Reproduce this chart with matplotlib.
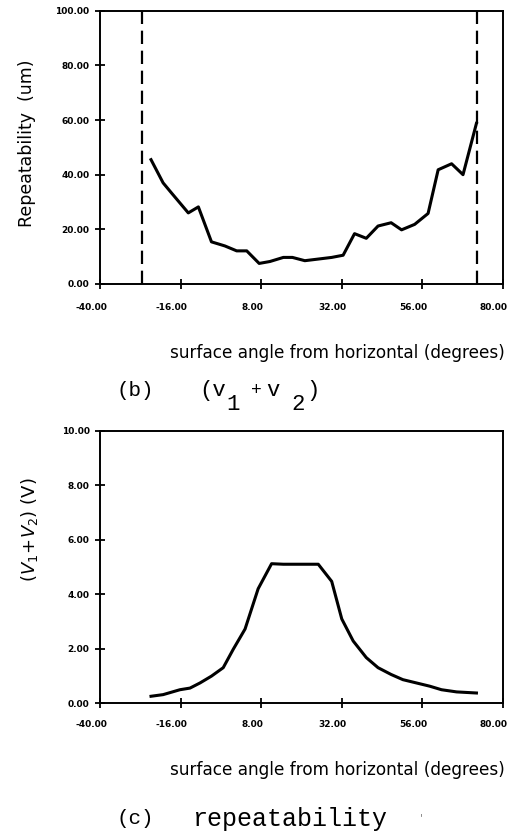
import numpy as np
import matplotlib
matplotlib.use("Agg")
import matplotlib.pyplot as plt
from matplotlib.transforms import ScaledTranslation

# repeatability (um) vs surface angle
ang_r = [-24.8, -21.2, -18.7, -13.7, -10.7, -6.8, -2.8, 0.7, 3.7, 7.4, 10.6, 14.6,
         17.3, 21.0, 25.0, 29.0, 32.4, 35.8, 39.3, 42.8, 46.7, 49.8, 53.7, 57.7,
         60.7, 64.7, 68.1, 72.1]
rep = [45.5, 37.0, 33.3, 26.0, 28.2, 15.4, 13.9, 12.1, 12.1, 7.5, 8.2, 9.7,
       9.7, 8.5, 9.1, 9.7, 10.5, 18.4, 16.7, 21.2, 22.4, 19.8, 21.8, 25.8,
       41.8, 44.0, 40.0, 58.8]
limits = [-27.6, 72.3]

# (V1+V2) in volts vs surface angle
ang_v = [-24.8, -21.2, -16.2, -13.2, -10.2, -6.8, -3.3, -0.3, 3.2, 7.1, 11.1, 14.6,
         21.0, 25.0, 29.0, 32.0, 35.4, 39.3, 42.8, 46.7, 50.2, 54.2, 58.2, 61.7,
         66.2, 72.1]
volt = [0.25, 0.31, 0.49, 0.55, 0.74, 0.99, 1.30, 1.98, 2.72, 4.20, 5.12, 5.10,
        5.10, 5.10, 4.47, 3.09, 2.28, 1.67, 1.30, 1.05, 0.86, 0.74, 0.62, 0.49,
        0.41, 0.37]

xticks = [-40, -16, 8, 32, 56, 80]

W, H = 518, 835
fig = plt.figure(figsize=(W / 100, H / 100), dpi=100)
ax1 = fig.add_axes([0.193, 0.660, 0.778, 0.327])
ax2 = fig.add_axes([0.193, 0.158, 0.778, 0.326])

def style(ax, ymax, yticks, xpad):
    ax.set_xlim(-40, 80)
    ax.set_ylim(0, ymax)
    ax.set_xticks(xticks)
    ax.set_yticks(yticks)
    ax.set_xticklabels(['%.2f' % t for t in xticks])
    ax.set_yticklabels(['%.2f' % t for t in yticks])
    for s in ax.spines.values():
        s.set_linewidth(1.4)
    ax.tick_params(direction='inout', length=7, width=1.3, labelsize=6.5)
    ax.tick_params(axis='x', pad=xpad)
    ax.tick_params(axis='y', pad=4)
    shift = ScaledTranslation(-9 / 100, 0, fig.dpi_scale_trans)
    for lab in ax.get_xticklabels():
        lab.set_fontweight('bold')
        lab.set_transform(lab.get_transform() + shift)
    for lab in ax.get_yticklabels():
        lab.set_fontweight('bold')

ax1.plot(ang_r, rep, color='black', lw=2.2)
for l in limits:
    ax1.axvline(l, color='black', lw=1.6, ls=(0, (6, 3)))
style(ax1, 100, [0, 20, 40, 60, 80, 100], 10.5)

ax2.plot(ang_v, volt, color='black', lw=2.2)
style(ax2, 10, [0, 2, 4, 6, 8, 10], 9)

def px(x, y):
    return x / W, 1 - y / H

mono = 'Liberation Mono'

# panel (b) labels
fig.text(*px(27, 143), 'Repeatability  (um)', rotation=90, fontsize=12.5,
         ha='center', va='center')
fig.text(*px(505, 353), 'surface angle from horizontal (degrees)',
         fontsize=12.2, ha='right', va='center')
fig.text(*px(117, 391), '(b)', fontsize=15, family=mono, va='center')
fig.text(*px(199, 391), '(v', fontsize=16, family=mono, va='center')
fig.text(*px(226, 404), '1', fontsize=16, family=mono, va='center')
fig.text(*px(251, 391), '+', fontsize=13, family=mono, va='center')
fig.text(*px(266, 391), 'v', fontsize=16, family=mono, va='center')
fig.text(*px(291, 404), '2', fontsize=16, family=mono, va='center')
fig.text(*px(306, 391), ')', fontsize=16, family=mono, va='center')

# panel (c) labels
fig.text(*px(30, 530), r'$(V_1\!+\!V_2)$ (V)', rotation=90, fontsize=13,
         ha='center', va='center')
fig.text(*px(505, 770), 'surface angle from horizontal (degrees)',
         fontsize=12.2, ha='right', va='center')
fig.text(*px(117, 819), '(c)', fontsize=15, family=mono, va='center')
fig.text(*px(192, 819), 'repeatability', fontsize=18, family=mono, va='center')
fig.text(*px(420, 818), "'", fontsize=8, color='0.5', va='center')

fig.savefig('out.png', dpi=100)
